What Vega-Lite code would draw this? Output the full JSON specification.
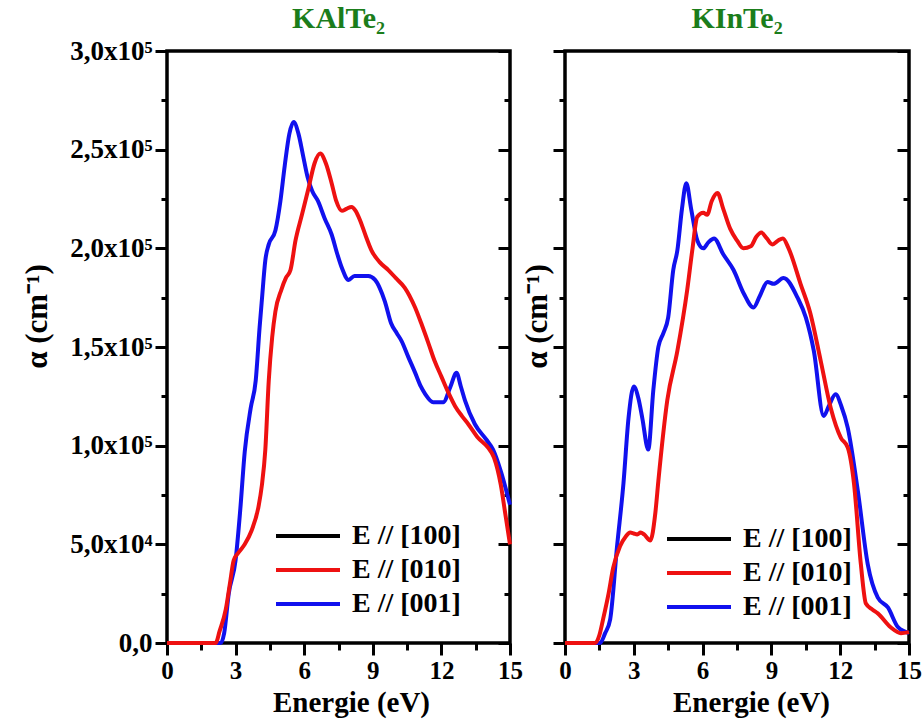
{
  "$schema": "https://vega.github.io/schema/vega-lite/v6.json",
  "background": "white",
  "padding": {"left": 19, "top": 1, "right": 10, "bottom": 0},
  "bounds": "flush",
  "spacing": 55,
  "datasets": {
    "kal": [
      {"E":0,"a":0,"s":"E // [001]"},{"E":1,"a":0,"s":"E // [001]"},{"E":2,"a":0,"s":"E // [001]"},{"E":2.35,"a":0,"s":"E // [001]"},{"E":2.5,"a":5000,"s":"E // [001]"},{"E":2.7,"a":25000,"s":"E // [001]"},{"E":3.0,"a":42000,"s":"E // [001]"},{"E":3.2,"a":67000,"s":"E // [001]"},{"E":3.4,"a":97000,"s":"E // [001]"},{"E":3.66,"a":119000,"s":"E // [001]"},{"E":3.88,"a":133000,"s":"E // [001]"},{"E":4.05,"a":160000,"s":"E // [001]"},{"E":4.15,"a":174000,"s":"E // [001]"},{"E":4.3,"a":194000,"s":"E // [001]"},{"E":4.45,"a":202000,"s":"E // [001]"},{"E":4.74,"a":209000,"s":"E // [001]"},{"E":4.96,"a":224000,"s":"E // [001]"},{"E":5.15,"a":242000,"s":"E // [001]"},{"E":5.35,"a":258000,"s":"E // [001]"},{"E":5.54,"a":264000,"s":"E // [001]"},{"E":5.75,"a":258000,"s":"E // [001]"},{"E":5.95,"a":247000,"s":"E // [001]"},{"E":6.15,"a":236000,"s":"E // [001]"},{"E":6.35,"a":229000,"s":"E // [001]"},{"E":6.6,"a":224000,"s":"E // [001]"},{"E":6.9,"a":215000,"s":"E // [001]"},{"E":7.2,"a":207000,"s":"E // [001]"},{"E":7.45,"a":197000,"s":"E // [001]"},{"E":7.65,"a":190000,"s":"E // [001]"},{"E":7.94,"a":184000,"s":"E // [001]"},{"E":8.2,"a":186000,"s":"E // [001]"},{"E":8.5,"a":186000,"s":"E // [001]"},{"E":8.8,"a":186000,"s":"E // [001]"},{"E":9.1,"a":184000,"s":"E // [001]"},{"E":9.3,"a":180000,"s":"E // [001]"},{"E":9.53,"a":173000,"s":"E // [001]"},{"E":9.8,"a":162000,"s":"E // [001]"},{"E":10.05,"a":157000,"s":"E // [001]"},{"E":10.26,"a":153000,"s":"E // [001]"},{"E":10.55,"a":145000,"s":"E // [001]"},{"E":10.85,"a":137000,"s":"E // [001]"},{"E":11.1,"a":130000,"s":"E // [001]"},{"E":11.3,"a":126000,"s":"E // [001]"},{"E":11.64,"a":122000,"s":"E // [001]"},{"E":12.08,"a":122000,"s":"E // [001]"},{"E":12.4,"a":130000,"s":"E // [001]"},{"E":12.66,"a":137000,"s":"E // [001]"},{"E":12.85,"a":130000,"s":"E // [001]"},{"E":13.03,"a":123000,"s":"E // [001]"},{"E":13.46,"a":111000,"s":"E // [001]"},{"E":13.97,"a":103000,"s":"E // [001]"},{"E":14.26,"a":98000,"s":"E // [001]"},{"E":14.6,"a":87000,"s":"E // [001]"},{"E":15,"a":70000,"s":"E // [001]"},
      {"E":0,"a":0,"s":"E // [010]"},{"E":1,"a":0,"s":"E // [010]"},{"E":2,"a":0,"s":"E // [010]"},{"E":2.13,"a":0,"s":"E // [010]"},{"E":2.3,"a":6000,"s":"E // [010]"},{"E":2.57,"a":17000,"s":"E // [010]"},{"E":2.75,"a":30000,"s":"E // [010]"},{"E":2.92,"a":42000,"s":"E // [010]"},{"E":3.14,"a":46000,"s":"E // [010]"},{"E":3.4,"a":50000,"s":"E // [010]"},{"E":3.7,"a":57000,"s":"E // [010]"},{"E":4.0,"a":69000,"s":"E // [010]"},{"E":4.15,"a":80000,"s":"E // [010]"},{"E":4.3,"a":98000,"s":"E // [010]"},{"E":4.45,"a":133000,"s":"E // [010]"},{"E":4.6,"a":155000,"s":"E // [010]"},{"E":4.74,"a":168000,"s":"E // [010]"},{"E":5.0,"a":179000,"s":"E // [010]"},{"E":5.2,"a":185000,"s":"E // [010]"},{"E":5.4,"a":189000,"s":"E // [010]"},{"E":5.62,"a":204000,"s":"E // [010]"},{"E":5.9,"a":217000,"s":"E // [010]"},{"E":6.2,"a":231000,"s":"E // [010]"},{"E":6.45,"a":243000,"s":"E // [010]"},{"E":6.7,"a":248000,"s":"E // [010]"},{"E":6.95,"a":243000,"s":"E // [010]"},{"E":7.2,"a":233000,"s":"E // [010]"},{"E":7.4,"a":224000,"s":"E // [010]"},{"E":7.65,"a":219000,"s":"E // [010]"},{"E":7.85,"a":220000,"s":"E // [010]"},{"E":8.07,"a":221000,"s":"E // [010]"},{"E":8.25,"a":219000,"s":"E // [010]"},{"E":8.45,"a":214000,"s":"E // [010]"},{"E":8.7,"a":206000,"s":"E // [010]"},{"E":8.94,"a":199000,"s":"E // [010]"},{"E":9.3,"a":193000,"s":"E // [010]"},{"E":9.68,"a":189000,"s":"E // [010]"},{"E":10.0,"a":185000,"s":"E // [010]"},{"E":10.4,"a":180000,"s":"E // [010]"},{"E":10.85,"a":170000,"s":"E // [010]"},{"E":11.15,"a":161000,"s":"E // [010]"},{"E":11.43,"a":152000,"s":"E // [010]"},{"E":11.7,"a":143000,"s":"E // [010]"},{"E":12.0,"a":135000,"s":"E // [010]"},{"E":12.3,"a":127000,"s":"E // [010]"},{"E":12.6,"a":120000,"s":"E // [010]"},{"E":12.9,"a":115000,"s":"E // [010]"},{"E":13.17,"a":111000,"s":"E // [010]"},{"E":13.6,"a":104000,"s":"E // [010]"},{"E":14.04,"a":99000,"s":"E // [010]"},{"E":14.3,"a":94000,"s":"E // [010]"},{"E":14.6,"a":80000,"s":"E // [010]"},{"E":14.8,"a":65000,"s":"E // [010]"},{"E":15,"a":50000,"s":"E // [010]"}
    ],
    "kin": [
      {"E":0,"a":0,"s":"E // [001]"},{"E":1,"a":0,"s":"E // [001]"},{"E":1.53,"a":0,"s":"E // [001]"},{"E":1.75,"a":5000,"s":"E // [001]"},{"E":1.97,"a":12000,"s":"E // [001]"},{"E":2.27,"a":49000,"s":"E // [001]"},{"E":2.55,"a":81000,"s":"E // [001]"},{"E":2.77,"a":114000,"s":"E // [001]"},{"E":3.0,"a":130000,"s":"E // [001]"},{"E":3.2,"a":124000,"s":"E // [001]"},{"E":3.37,"a":114000,"s":"E // [001]"},{"E":3.63,"a":98000,"s":"E // [001]"},{"E":3.85,"a":128000,"s":"E // [001]"},{"E":4.07,"a":150000,"s":"E // [001]"},{"E":4.29,"a":157000,"s":"E // [001]"},{"E":4.5,"a":165000,"s":"E // [001]"},{"E":4.72,"a":189000,"s":"E // [001]"},{"E":4.9,"a":199000,"s":"E // [001]"},{"E":5.1,"a":220000,"s":"E // [001]"},{"E":5.29,"a":233000,"s":"E // [001]"},{"E":5.5,"a":220000,"s":"E // [001]"},{"E":5.77,"a":204000,"s":"E // [001]"},{"E":6.03,"a":200000,"s":"E // [001]"},{"E":6.25,"a":203000,"s":"E // [001]"},{"E":6.5,"a":205000,"s":"E // [001]"},{"E":6.9,"a":197000,"s":"E // [001]"},{"E":7.35,"a":189000,"s":"E // [001]"},{"E":7.8,"a":177000,"s":"E // [001]"},{"E":8.22,"a":170000,"s":"E // [001]"},{"E":8.5,"a":176000,"s":"E // [001]"},{"E":8.83,"a":183000,"s":"E // [001]"},{"E":9.1,"a":182000,"s":"E // [001]"},{"E":9.53,"a":185000,"s":"E // [001]"},{"E":10.14,"a":175000,"s":"E // [001]"},{"E":10.5,"a":165000,"s":"E // [001]"},{"E":10.85,"a":148000,"s":"E // [001]"},{"E":11.28,"a":115000,"s":"E // [001]"},{"E":11.5,"a":120000,"s":"E // [001]"},{"E":11.8,"a":126000,"s":"E // [001]"},{"E":12.05,"a":120000,"s":"E // [001]"},{"E":12.33,"a":109000,"s":"E // [001]"},{"E":12.77,"a":77000,"s":"E // [001]"},{"E":13.2,"a":40000,"s":"E // [001]"},{"E":13.64,"a":23000,"s":"E // [001]"},{"E":14.08,"a":18000,"s":"E // [001]"},{"E":14.52,"a":8000,"s":"E // [001]"},{"E":15,"a":5000,"s":"E // [001]"},
      {"E":0,"a":0,"s":"E // [010]"},{"E":1,"a":0,"s":"E // [010]"},{"E":1.3,"a":0,"s":"E // [010]"},{"E":1.5,"a":4000,"s":"E // [010]"},{"E":1.66,"a":12000,"s":"E // [010]"},{"E":1.9,"a":25000,"s":"E // [010]"},{"E":2.1,"a":38000,"s":"E // [010]"},{"E":2.4,"a":49000,"s":"E // [010]"},{"E":2.65,"a":54000,"s":"E // [010]"},{"E":2.84,"a":56000,"s":"E // [010]"},{"E":3.0,"a":55500,"s":"E // [010]"},{"E":3.15,"a":55000,"s":"E // [010]"},{"E":3.3,"a":56000,"s":"E // [010]"},{"E":3.45,"a":55000,"s":"E // [010]"},{"E":3.72,"a":52000,"s":"E // [010]"},{"E":3.94,"a":66000,"s":"E // [010]"},{"E":4.07,"a":82000,"s":"E // [010]"},{"E":4.46,"a":123000,"s":"E // [010]"},{"E":4.9,"a":148000,"s":"E // [010]"},{"E":5.33,"a":179000,"s":"E // [010]"},{"E":5.55,"a":199000,"s":"E // [010]"},{"E":5.77,"a":216000,"s":"E // [010]"},{"E":6.03,"a":218000,"s":"E // [010]"},{"E":6.2,"a":217000,"s":"E // [010]"},{"E":6.4,"a":224000,"s":"E // [010]"},{"E":6.65,"a":228000,"s":"E // [010]"},{"E":6.9,"a":220000,"s":"E // [010]"},{"E":7.2,"a":210000,"s":"E // [010]"},{"E":7.5,"a":204000,"s":"E // [010]"},{"E":7.78,"a":200000,"s":"E // [010]"},{"E":8.1,"a":201000,"s":"E // [010]"},{"E":8.35,"a":206000,"s":"E // [010]"},{"E":8.56,"a":208000,"s":"E // [010]"},{"E":8.8,"a":205000,"s":"E // [010]"},{"E":9.04,"a":202000,"s":"E // [010]"},{"E":9.3,"a":204000,"s":"E // [010]"},{"E":9.5,"a":205000,"s":"E // [010]"},{"E":9.75,"a":200000,"s":"E // [010]"},{"E":10.27,"a":182000,"s":"E // [010]"},{"E":10.7,"a":167000,"s":"E // [010]"},{"E":11.15,"a":143000,"s":"E // [010]"},{"E":11.59,"a":119000,"s":"E // [010]"},{"E":12.03,"a":104000,"s":"E // [010]"},{"E":12.33,"a":99000,"s":"E // [010]"},{"E":12.6,"a":81000,"s":"E // [010]"},{"E":12.9,"a":40000,"s":"E // [010]"},{"E":13.12,"a":20000,"s":"E // [010]"},{"E":13.4,"a":17000,"s":"E // [010]"},{"E":13.64,"a":15000,"s":"E // [010]"},{"E":14.2,"a":8000,"s":"E // [010]"},{"E":14.65,"a":5000,"s":"E // [010]"},{"E":15,"a":5500,"s":"E // [010]"}
    ]
  },
  "config": {
    "font": "Liberation Serif",
    "view": {"stroke": "black", "strokeWidth": 3.5},
    "axis": {"domain": false, "grid": false, "labelFont": "Liberation Serif", "labelFontWeight": "bold", "labelFontSize": 27, "labelColor": "black", "titleFont": "Liberation Serif", "titleFontWeight": "bold", "titleFontSize": 29, "titleColor": "black", "tickColor": "black", "tickWidth": 3, "labelOverlap": false, "labelFlush": false},
    "line": {"strokeWidth": 4, "interpolate": "monotone"},
    "legend": {"orient": "none", "title": null, "symbolType": "M-3.2,0H3.2", "symbolSize": 400, "symbolStrokeWidth": 4.5, "labelFont": "Liberation Serif", "labelFontSize": 28, "labelFontWeight": "bold", "labelColor": "black", "labelOffset": 30, "rowPadding": 6}
  },
  "resolve": {"scale": {"color": "independent"}},
  "hconcat": [
    {
      "width": 343, "height": 592,
      "title": {"text": "KAlTe₂", "color": "#1b7d1b", "fontSize": 30, "fontWeight": "bold", "font": "Liberation Serif", "offset": 3, "anchor": "middle"},
      "data": {"name": "kal"},
      "layer": [
        {
          "mark": {"type": "line"},
          "encoding": {
            "x": {"field": "E", "type": "quantitative", "scale": {"domain": [0, 15], "nice": false, "zero": false},
              "axis": {"orient": "bottom", "values": [0, 1.5, 3, 4.5, 6, 7.5, 9, 10.5, 12, 13.5, 15], "labelExpr": "datum.value % 3 === 0 ? datum.label : ''", "tickSize": {"condition": {"test": "datum.value % 3 === 0", "value": 12}, "value": 7}, "labelFontSize": 25, "labelPadding": 3, "title": "Energie (eV)", "titleX": 184, "titleY": 45}},
            "y": {"field": "a", "type": "quantitative", "scale": {"domain": [0, 300000], "nice": false},
              "axis": {"orient": "left", "values": [0, 25000, 50000, 75000, 100000, 125000, 150000, 175000, 200000, 225000, 250000, 275000, 300000], "labelExpr": "datum.value === 0 ? '0,0' : datum.value % 50000 !== 0 ? '' : datum.value < 100000 ? '5,0x10⁴' : replace(format(datum.value / 100000, '.1f'), '.', ',') + 'x10⁵'", "tickSize": {"condition": {"test": "datum.value % 50000 === 0", "value": 12}, "value": 6}, "labelPadding": 3, "title": "α (cm⁻¹)", "titleFontSize": 31, "titleX": -114, "titleY": 265}},
            "color": {"field": "s", "type": "nominal", "scale": {"domain": ["E // [100]", "E // [010]", "E // [001]"], "range": ["black", "#ee1111", "#1111ee"]},
              "legend": {"legendX": 127, "legendY": 471}}
          }
        },
        {
          "mark": {"type": "point", "opacity": 0},
          "encoding": {
            "x": {"field": "E", "type": "quantitative", "axis": {"orient": "top", "ticks": false, "labels": false, "domain": false, "title": null}},
            "y": {"field": "a", "type": "quantitative", "axis": {"orient": "right", "values": [0, 25000, 50000, 75000, 100000, 125000, 150000, 175000, 200000, 225000, 250000, 275000, 300000], "labels": false, "title": null, "tickSize": {"condition": {"test": "datum.value % 50000 === 0", "value": -12}, "value": -6}}}
          }
        }
      ],
      "resolve": {"axis": {"x": "independent", "y": "independent"}}
    },
    {
      "width": 344, "height": 592,
      "title": {"text": "KInTe₂", "color": "#1b7d1b", "fontSize": 30, "fontWeight": "bold", "font": "Liberation Serif", "offset": 16, "anchor": "middle"},
      "data": {"name": "kin"},
      "layer": [
        {
          "mark": {"type": "line"},
          "encoding": {
            "x": {"field": "E", "type": "quantitative", "scale": {"domain": [0, 15], "nice": false, "zero": false},
              "axis": {"orient": "bottom", "values": [0, 1.5, 3, 4.5, 6, 7.5, 9, 10.5, 12, 13.5, 15], "labelExpr": "datum.value % 3 === 0 ? datum.label : ''", "tickSize": {"condition": {"test": "datum.value % 3 === 0", "value": 12}, "value": 7}, "labelFontSize": 25, "labelPadding": 3, "title": "Energie (eV)", "titleX": 186, "titleY": 45}},
            "y": {"field": "a", "type": "quantitative", "scale": {"domain": [0, 300000], "nice": false},
              "axis": {"orient": "left", "values": [0, 25000, 50000, 75000, 100000, 125000, 150000, 175000, 200000, 225000, 250000, 275000, 300000], "labels": false, "tickSize": {"condition": {"test": "datum.value % 50000 === 0", "value": 12}, "value": 6}, "title": "α (cm⁻¹)", "titleFontSize": 31, "titleX": -12, "titleY": 265}},
            "color": {"field": "s", "type": "nominal", "scale": {"domain": ["E // [100]", "E // [010]", "E // [001]"], "range": ["black", "#ee1111", "#1111ee"]},
              "legend": {"legendX": 120, "legendY": 474}}
          }
        },
        {
          "mark": {"type": "point", "opacity": 0},
          "encoding": {
            "x": {"field": "E", "type": "quantitative", "axis": {"orient": "top", "ticks": false, "labels": false, "domain": false, "title": null}},
            "y": {"field": "a", "type": "quantitative", "axis": {"orient": "right", "values": [0, 25000, 50000, 75000, 100000, 125000, 150000, 175000, 200000, 225000, 250000, 275000, 300000], "labels": false, "title": null, "tickSize": {"condition": {"test": "datum.value % 50000 === 0", "value": -12}, "value": -6}}}
          }
        }
      ],
      "resolve": {"axis": {"x": "independent", "y": "independent"}}
    }
  ]
}
